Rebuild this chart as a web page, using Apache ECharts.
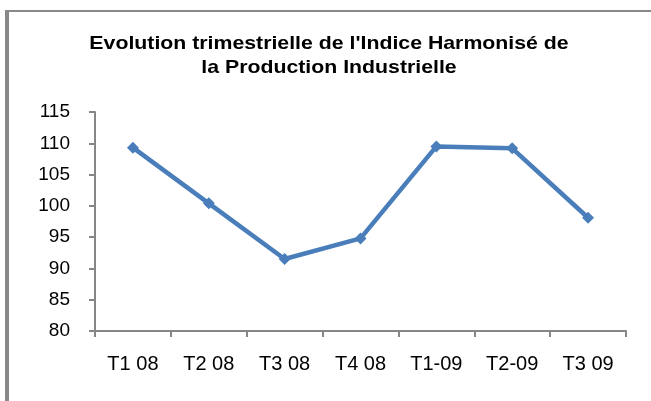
<!DOCTYPE html>
<html>
<head>
<meta charset="utf-8">
<script src="https://cdn.jsdelivr.net/npm/echarts@6/dist/echarts.min.js"></script>
<style>
  html, body { margin: 0; padding: 0; background: #fff; }
  #chart { width: 651px; height: 401px; }
</style>
</head>
<body>
<div id="chart"></div>
<script>
// trimestres
var categories = ['T1 08', 'T2 08', 'T3 08', 'T4 08', 'T1-09', 'T2-09', 'T3 09'];
// indice harmonisé
var ihpi = [109.3, 100.4, 91.5, 94.8, 109.5, 109.2, 98.1];
// titre (deux lignes)
var titleLines = ["Evolution trimestrielle de l'Indice Harmonisé de", 'la Production Industrielle'];

var chart = echarts.init(document.getElementById('chart'));
var axisGray = '#868686';
var titleFont = 'bold 19px "Liberation Sans", Arial, sans-serif';
chart.setOption({
  animation: false,
  graphic: [
    // cadre
    { type: 'rect', shape: { x: 5, y: 10, width: 4, height: 400 }, style: { fill: '#888' } },
    { type: 'rect', shape: { x: 5, y: 10, width: 650, height: 2 }, style: { fill: '#888' } },
    // titre
    { type: 'text', x: 329, y: 44, scaleX: 1.12,
      style: { text: titleLines[0], font: titleFont, fill: '#000', textAlign: 'center', textVerticalAlign: 'middle' } },
    { type: 'text', x: 329, y: 68, scaleX: 1.12,
      style: { text: titleLines[1], font: titleFont, fill: '#000', textAlign: 'center', textVerticalAlign: 'middle' } }
  ],
  grid: { left: 95, right: 25, top: 112, bottom: 70 },
  xAxis: {
    type: 'category',
    data: categories,
    boundaryGap: true,
    axisLine: { lineStyle: { color: axisGray, width: 2 } },
    axisTick: { show: true, length: 6, lineStyle: { color: axisGray, width: 2 } },
    axisLabel: {
      margin: 23,
      fontFamily: 'Liberation Sans',
      fontSize: 20,
      color: '#000'
    }
  },
  yAxis: {
    type: 'value',
    min: 80,
    max: 115,
    interval: 5,
    splitLine: { show: false },
    axisLine: { show: true, lineStyle: { color: axisGray, width: 2 } },
    axisTick: { show: true, length: 6, lineStyle: { color: axisGray, width: 2 } },
    axisLabel: {
      margin: 25,
      fontFamily: 'Liberation Sans',
      fontSize: 19,
      color: '#000'
    }
  },
  series: [{
    type: 'line',
    data: ihpi,
    symbol: 'diamond',
    symbolSize: 12,
    lineStyle: { color: '#4A7EBB', width: 4.5 },
    itemStyle: { color: '#4A7EBB' }
  }]
});
</script>
</body>
</html>
